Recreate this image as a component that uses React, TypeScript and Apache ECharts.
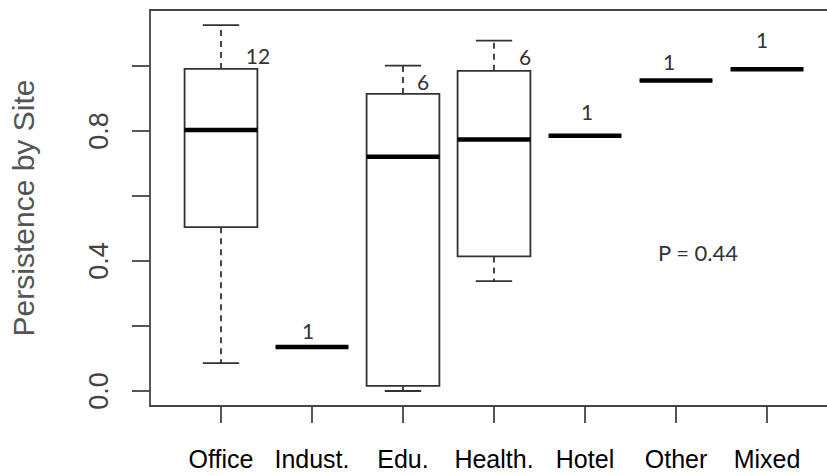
import React, { useEffect, useRef } from "react";
import * as echarts from "echarts";

const categories = ["Office", "Indust.", "Edu.", "Health.", "Hotel", "Other", "Mixed"];
const whiskerLow = [0.086, 0.135, 0.0, 0.338, 0.785, 0.955, 0.99];
const q1 = [0.504, 0.135, 0.016, 0.414, 0.785, 0.955, 0.99];
const median = [0.803, 0.135, 0.721, 0.774, 0.785, 0.955, 0.99];
const q3 = [0.991, 0.135, 0.914, 0.985, 0.785, 0.955, 0.99];
const whiskerHigh = [1.126, 0.135, 1.001, 1.078, 0.785, 0.955, 0.99];
const counts = [12, 1, 6, 6, 1, 1, 1];
const yTicks = [0, 0.2, 0.4, 0.6, 0.8, 1.0];
const yTickLabels = [0, 0.4, 0.8];
const pValueText = "P = 0.44";

// label offsets (pixels) relative to the box top
const labelOffsets = [
  [37, -13],
  [-4, -17],
  [20, -12],
  [31, -14],
  [2, -24],
  [-7, -19],
  [-5, -30],
];

export default function App() {
  const ref = useRef<HTMLDivElement>(null);
  useEffect(() => {
    document.body.style.margin = "0";
    const chart = echarts.init(ref.current!, null, { renderer: "svg" });
    const xIdx = categories.map((_, i) => i);
    const data = categories.map((_, i) => [i, whiskerLow[i], q1[i], median[i], q3[i], whiskerHigh[i]]);
    const lineColor = "#333";
    chart.setOption({
      animation: false,
      grid: {
        left: 150,
        width: 688,
        top: 10,
        bottom: 69,
        outerBoundsMode: "none",
        containLabel: false,
        show: true,
        borderColor: "#444",
        borderWidth: 1.8,
        backgroundColor: "transparent",
      },
      xAxis: {
        type: "value",
        min: -0.78,
        max: 6.78,
        axisLine: { show: false, onZero: false },
        splitLine: { show: false },
        axisTick: {
          show: true,
          inside: false,
          length: 17,
          customValues: xIdx,
          lineStyle: { color: "#444", width: 1.8 },
        },
        axisLabel: {
          customValues: xIdx,
          formatter: (v: number) => categories[Math.round(v)] ?? "",
          margin: 40,
          color: "#000",
          fontSize: 25,
          fontFamily: "Liberation Sans",
          hideOverlap: false,
        },
      },
      yAxis: {
        type: "value",
        min: -0.0462,
        max: 1.1723,
        axisLine: { show: false, onZero: false },
        splitLine: { show: false },
        axisTick: {
          show: true,
          length: 18,
          customValues: yTicks,
          lineStyle: { color: "#444", width: 1.8 },
        },
        axisLabel: {
          customValues: yTickLabels,
          rotate: 90,
          formatter: (v: number) => v.toFixed(1),
          margin: 38,
          color: "#444",
          fontSize: 27,
          fontFamily: "Liberation Sans",
        },
      },
      graphic: [
        {
          type: "text",
          x: 23,
          y: 208,
          rotation: Math.PI / 2,
          style: {
            text: "Persistence by Site",
            fill: "#555",
            fontSize: 30,
            fontFamily: "Liberation Sans",
            align: "center",
            verticalAlign: "middle",
          },
        },
        {
          type: "text",
          x: 698,
          y: 252,
          style: {
            text: pValueText,
            fill: "#333",
            fontSize: 22,
            fontFamily: "Lato",
            align: "center",
            verticalAlign: "middle",
          },
        },
      ],
      series: [
        {
          type: "custom",
          data,
          renderItem: (params: any, api: any) => {
            const i = api.value(0);
            const vMin = api.value(1);
            const vQ1 = api.value(2);
            const vMed = api.value(3);
            const vQ3 = api.value(4);
            const vMax = api.value(5);
            const [cx, yMin] = api.coord([i, vMin]);
            const yQ1 = api.coord([i, vQ1])[1];
            const yMed = api.coord([i, vMed])[1];
            const yQ3 = api.coord([i, vQ3])[1];
            const yMax = api.coord([i, vMax])[1];
            const half = api.size([0.8, 0])[0] / 2;
            const capHalf = api.size([0.4, 0])[0] / 2;
            const idx = params.dataIndex;
            const off = labelOffsets[idx];
            const dashStyle = { stroke: lineColor, lineWidth: 1.8, lineDash: [6, 5] };
            const solid = { stroke: lineColor, lineWidth: 1.8 };
            return {
              type: "group",
              children: [
                { type: "line", shape: { x1: cx, y1: yQ3, x2: cx, y2: yMax }, style: dashStyle },
                { type: "line", shape: { x1: cx, y1: yQ1, x2: cx, y2: yMin }, style: dashStyle },
                { type: "line", shape: { x1: cx - capHalf, y1: yMax, x2: cx + capHalf, y2: yMax }, style: solid },
                { type: "line", shape: { x1: cx - capHalf, y1: yMin, x2: cx + capHalf, y2: yMin }, style: solid },
                {
                  type: "rect",
                  shape: { x: cx - half, y: yQ3, width: half * 2, height: yQ1 - yQ3 },
                  style: { fill: "#fff", stroke: lineColor, lineWidth: 1.8 },
                },
                {
                  type: "line",
                  shape: { x1: cx - half, y1: yMed, x2: cx + half, y2: yMed },
                  style: { stroke: "#000", lineWidth: 4.5 },
                },
                {
                  type: "text",
                  x: cx + off[0],
                  y: yQ3 + off[1],
                  style: {
                    text: String(counts[idx]),
                    fill: "#333",
                    fontSize: 21,
                    fontFamily: "Lato",
                    align: "center",
                    verticalAlign: "middle",
                  },
                },
              ],
            };
          },
        },
      ],
    });
    return () => chart.dispose();
  }, []);
  return <div ref={ref} style={{ width: 827, height: 475 }} />;
}
